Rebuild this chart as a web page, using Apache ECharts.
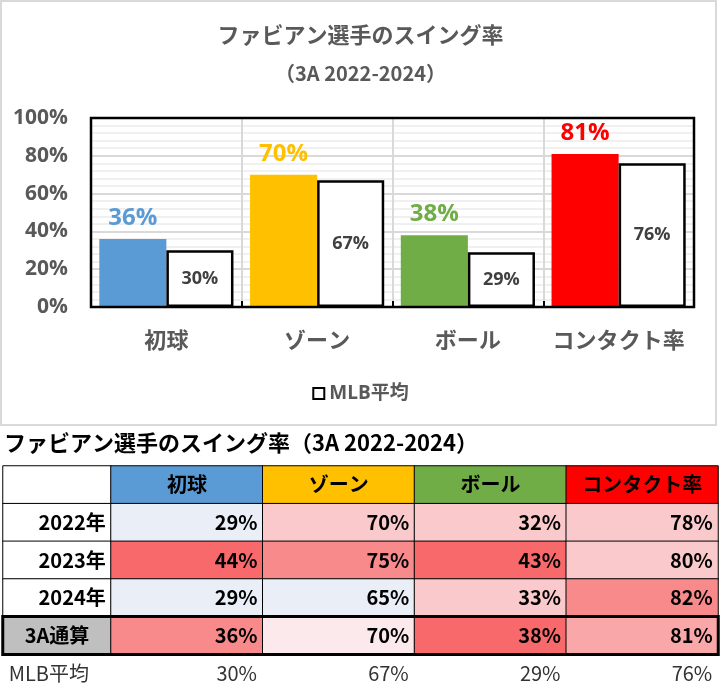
<!DOCTYPE html>
<html>
<head>
<meta charset="utf-8">
<script src="https://cdn.jsdelivr.net/npm/echarts@6/dist/echarts.min.js"></script>
<style>
html,body{margin:0;padding:0;background:#fff;}
#main{width:721px;height:692px;}
</style>
</head>
<body>
<div id="main"></div>
<script>
// ---- data ----
const categories = ['初球', 'ゾーン', 'ボール', 'コンタクト率'];
const playerRates = [36, 70, 38, 81];
const mlbRates = [30, 67, 29, 76];
const mlbName = 'MLB平均';
const playerName = 'ファビアン';
const yMin = 0, yMax = 100, yStep = 20;

const chartTitle = 'ファビアン選手のスイング率';
const chartSubtitle = '（3A 2022-2024）';
const tableTitle = 'ファビアン選手のスイング率（3A 2022-2024）';

const seasons = ['2022年', '2023年', '2024年', '3A通算'];
const rates2022 = [29, 70, 32, 78];
const rates2023 = [44, 75, 43, 80];
const rates2024 = [29, 65, 33, 82];
const rates3A = [36, 70, 38, 81];

// ---- styles ----
const catColors = ['#5b9bd5', '#ffc000', '#70ad47', '#ff0000'];
const cellColors = [
  ['#e9eef7', '#f9c9cb', '#f9c9cb', '#f9c9cb'],
  ['#f8696b', '#f98a8c', '#f8696b', '#f9c9cb'],
  ['#e9eef7', '#e9eef7', '#f9c9cb', '#f98a8c'],
  ['#f98a8c', '#fce9ec', '#f8696b', '#faa7a9']
];
const JP = '"Noto Sans CJK JP", sans-serif';
const NUM = '"Open Sans", "Noto Sans CJK JP", sans-serif';

const tableRows = [rates2022, rates2023, rates2024, rates3A];
const rowKeys = ['head'].concat(seasons).concat([mlbName]);

// ---- bar series data ----
const playerData = playerRates.map((v, i) => ({
  value: v,
  itemStyle: { color: catColors[i] },
  label: { color: catColors[i] }
}));

// ---- table data ----
const headerCells = [];
headerCells.push({ value: [0, 0, 0], itemStyle: { color: '#fff' }, label: { formatter: '' } });
seasons.forEach((s, r) => {
  const last = r === seasons.length - 1;
  headerCells.push({
    value: [0, r + 1, 0],
    itemStyle: { color: last ? '#bfbfbf' : '#fff' },
    label: { formatter: s, position: last ? 'inside' : 'insideRight' }
  });
});
headerCells.push({
  value: [0, seasons.length + 1, 0],
  itemStyle: { color: 'rgba(0,0,0,0)', borderWidth: 0 },
  label: { formatter: mlbName, position: 'insideLeft', fontWeight: 'normal', color: '#333' }
});

const bodyCells = [];
categories.forEach((c, ci) => {
  bodyCells.push({
    value: [ci, 0, 0],
    itemStyle: { color: catColors[ci] },
    label: { formatter: c, position: 'inside' }
  });
  tableRows.forEach((row, ri) => {
    bodyCells.push({
      value: [ci, ri + 1, row[ci]],
      itemStyle: { color: cellColors[ri][ci] },
      label: { formatter: row[ci] + '%', position: 'insideRight' }
    });
  });
  bodyCells.push({
    value: [ci, tableRows.length + 1, mlbRates[ci]],
    itemStyle: { color: 'rgba(0,0,0,0)', borderWidth: 0 },
    label: { formatter: mlbRates[ci] + '%', position: 'insideRight', fontWeight: 'normal', color: '#333' }
  });
});

const chart = echarts.init(document.getElementById('main'));

const tableTop = 466, rowH = 38.35;
const hiddenCat = (data, inverse) => ({
  type: 'category', data: data, inverse: !!inverse,
  axisLine: { show: false }, axisTick: { show: false }, axisLabel: { show: false }, splitLine: { show: false }
});

const option = {
  animation: false,
  backgroundColor: '#fff',
  title: [
    { text: chartTitle, left: 'center', top: 22, padding: 0,
      textStyle: { fontFamily: JP, fontSize: 22, lineHeight: 26, fontWeight: 'bold', color: '#595959' } },
    { text: chartSubtitle, left: 'center', top: 61, padding: 0,
      textStyle: { fontFamily: JP, fontSize: 20, lineHeight: 24, fontWeight: 'bold', color: '#595959' } },
    { text: tableTitle, left: 4, top: 429, padding: 0,
      textStyle: { fontFamily: JP, fontSize: 22, lineHeight: 27, fontWeight: 'bold', color: '#000' } }
  ],
  legend: {
    data: [mlbName], left: 'center', top: 384, padding: 0,
    icon: 'rect', itemWidth: 11, itemHeight: 11, itemGap: 6,
    textStyle: { fontFamily: NUM, fontSize: 19, fontWeight: 'bold', color: '#595959' }
  },
  grid: [
    { left: 91, right: 27, top: 118, height: 189, show: true, borderColor: '#000', borderWidth: 2.5, backgroundColor: 'transparent', z: 3 },
    { left: 3, width: 108, top: tableTop, height: rowH * 6 },
    { left: 111, width: 607, top: tableTop, height: rowH * 6 },
    { left: 3, width: 715, top: tableTop, height: rowH * 6 }
  ],
  xAxis: [
    {
      type: 'category', data: categories, gridIndex: 0,
      axisLine: { show: false },
      axisTick: { show: true, inside: true, interval: 0, length: 6, lineStyle: { color: '#000', width: 2 } },
      splitLine: { show: true, interval: 0, lineStyle: { color: '#d9d9d9', width: 2 } },
      axisLabel: { interval: 0, margin: 22, fontFamily: JP, fontSize: 22, fontWeight: 'bold', color: '#595959' }
    },
    Object.assign(hiddenCat(['h']), { gridIndex: 1 }),
    Object.assign(hiddenCat(categories), { gridIndex: 2 }),
    Object.assign(hiddenCat(['all']), { gridIndex: 3 })
  ],
  yAxis: [
    {
      type: 'value', gridIndex: 0, min: yMin, max: yMax, interval: yStep,
      axisLine: { show: false }, axisTick: { show: false },
      axisLabel: { margin: 23, formatter: '{value}%', fontFamily: NUM, fontSize: 21, fontWeight: 'bold', color: '#595959' },
      splitLine: { show: true, lineStyle: { color: '#d9d9d9', width: 2 } },
      minorTick: { show: false, splitNumber: 5 },
      minorSplitLine: { show: true, lineStyle: { color: '#f0f0f0', width: 2 } }
    },
    Object.assign(hiddenCat(rowKeys, true), { gridIndex: 1 }),
    Object.assign(hiddenCat(rowKeys, true), { gridIndex: 2 }),
    Object.assign(hiddenCat(rowKeys, true), { gridIndex: 3 })
  ],
  series: [
    {
      name: playerName, type: 'bar', xAxisIndex: 0, yAxisIndex: 0,
      data: playerData, barGap: '0%', barCategoryGap: '11%',
      label: { show: true, position: 'top', distance: 9, formatter: '{c}%',
        fontFamily: NUM, fontSize: 24, fontWeight: 'bold' }
    },
    {
      name: mlbName, type: 'bar', xAxisIndex: 0, yAxisIndex: 0,
      data: mlbRates, barGap: '0%', barCategoryGap: '11%',
      itemStyle: { color: '#fff', borderColor: '#000', borderWidth: 2.5 },
      label: { show: true, position: 'inside', formatter: '{c}%',
        fontFamily: NUM, fontSize: 18, fontWeight: 'bold', color: '#404040' }
    },
    {
      type: 'heatmap', xAxisIndex: 1, yAxisIndex: 1, data: headerCells,
      itemStyle: { borderColor: '#000', borderWidth: 1 },
      label: { show: true, distance: 6, fontFamily: JP, fontSize: 20, fontWeight: 'bold', color: '#000' },
      emphasis: { disabled: true }
    },
    {
      type: 'heatmap', xAxisIndex: 2, yAxisIndex: 2, data: bodyCells,
      itemStyle: { borderColor: '#000', borderWidth: 1 },
      label: { show: true, distance: 6, fontFamily: JP, fontSize: 20, fontWeight: 'bold', color: '#000' },
      emphasis: { disabled: true }
    },
    {
      type: 'heatmap', xAxisIndex: 3, yAxisIndex: 3, z: 5,
      data: [{ value: [0, seasons.length, 0] }],
      itemStyle: { color: 'rgba(0,0,0,0)', borderColor: '#000', borderWidth: 3 },
      label: { show: false },
      emphasis: { disabled: true }
    }
  ],
  graphic: [
    { type: 'rect', shape: { x: 1, y: 1, width: 715, height: 424 },
      style: { fill: 'none', stroke: '#d9d9d9', lineWidth: 2 }, z: -1, silent: true }
  ]
};
chart.setOption(option);
</script>
</body>
</html>
